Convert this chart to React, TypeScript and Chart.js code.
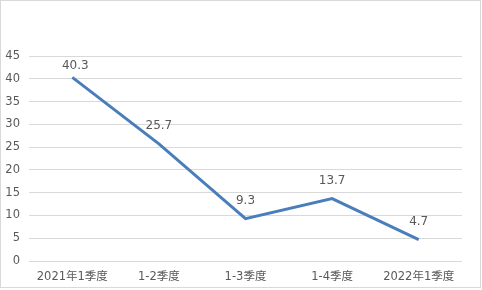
import React, { useEffect, useRef } from "react";
import { Chart, registerables } from "chart.js";

Chart.register(...registerables);

const categories = ["2021年1季度", "1-2季度", "1-3季度", "1-4季度", "2022年1季度"];
const values = [40.3, 25.7, 9.3, 13.7, 4.7];
const yTicks = [0, 5, 10, 15, 20, 25, 30, 35, 40, 45];

const TEXT = "#595959";
const FONT = "'DejaVu Sans', 'Noto Sans CJK SC', sans-serif";
const labelOffsets = [12, 18, 18, 18, 18];

const dataLabels = {
  id: "dataLabels",
  afterDatasetsDraw(chart: any) {
    const ctx = chart.ctx;
    const meta = chart.getDatasetMeta(0);
    ctx.save();
    ctx.fillStyle = TEXT;
    ctx.font = `12px ${FONT}`;
    ctx.textAlign = "center";
    ctx.textBaseline = "middle";
    meta.data.forEach((pt: any, i: number) => {
      ctx.fillText(String(values[i]), pt.x + (i === 0 ? 3 : 0), pt.y - labelOffsets[i]);
    });
    ctx.restore();
  },
};

export default function App() {
  const ref = useRef<HTMLCanvasElement | null>(null);
  useEffect(() => {
    if (!ref.current) return;
    const chart = new Chart(ref.current, {
      type: "line",
      data: {
        labels: categories,
        datasets: [
          {
            data: values,
            borderColor: "#4a7ebb",
            borderWidth: 3,
            pointRadius: 0,
            tension: 0,
            fill: false,
          },
        ],
      },
      options: {
        animation: false,
        responsive: false,
        maintainAspectRatio: false,
        layout: { padding: { top: 56, right: 20, left: 0, bottom: 0 } },
        plugins: { legend: { display: false }, tooltip: { enabled: false } },
        scales: {
          x: {
            offset: true,
            grid: { display: false, drawTicks: false },
            border: { display: false },
            ticks: {
              color: TEXT,
              font: { family: FONT, size: 11.5 },
              padding: 9,
              maxRotation: 0,
              autoSkip: false,
            },
            afterFit: (s: any) => {
              s.height = 29;
            },
          },
          y: {
            min: 0,
            max: 45,
            afterBuildTicks: (s: any) => {
              s.ticks = yTicks.map((v) => ({ value: v }));
            },
            grid: { color: "#d9d9d9", lineWidth: 1, drawTicks: false },
            border: { display: false },
            ticks: {
              color: TEXT,
              font: { family: FONT, size: 11.5 },
              padding: 9,
            },
            afterFit: (s: any) => {
              s.width = 29;
            },
          },
        },
      },
      plugins: [dataLabels],
    });
    return () => chart.destroy();
  }, []);
  return (
    <div style={{ position: "fixed", left: 0, top: 0, width: 482, height: 290, background: "#fff" }}>
      <canvas ref={ref} width={482} height={290} style={{ position: "absolute", left: 0, top: 0 }} />
      <div
        style={{
          position: "absolute",
          left: 0,
          top: 0,
          width: 481,
          height: 288,
          boxSizing: "border-box",
          border: "1px solid #d9d9d9",
          pointerEvents: "none",
        }}
      />
    </div>
  );
}
